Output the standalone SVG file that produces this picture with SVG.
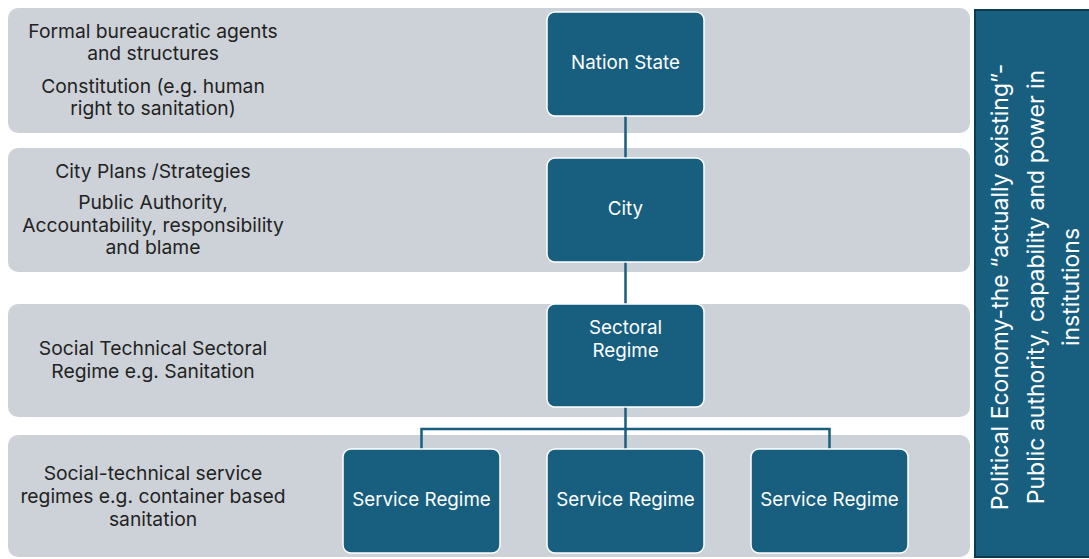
<svg xmlns="http://www.w3.org/2000/svg" width="1089" height="559" viewBox="0 0 1089 559">
  <style>
    .band { fill: #CDD2D8; }
    .node rect { fill: #175E7F; stroke: #FFFFFF; stroke-width: 1.5; }
    .node text { fill: #FFFFFF; font-family: Inter, "Open Sans", "Liberation Sans", sans-serif; font-size: 18.8px; text-anchor: middle; }
    .lbl { fill: #222222; font-family: Inter, "Open Sans", "Liberation Sans", sans-serif; font-size: 19.3px; text-anchor: middle; }
    .conn { fill: none; stroke: #175E7F; stroke-width: 2.5; }
    .side rect { fill: #175E7F; stroke: #0C3A4F; stroke-width: 2; }
    .side text { fill: #FFFFFF; font-family: Inter, "Open Sans", "Liberation Sans", sans-serif; font-size: 23px; text-anchor: middle; }
  </style>

  <rect width="1089" height="559" fill="#FFFFFF"/>

  <!-- horizontal level bands -->
  <g id="bands">
    <rect class="band" x="8" y="8" width="962" height="125" rx="10"/>
    <rect class="band" x="8" y="148" width="962" height="124" rx="10"/>
    <rect class="band" x="8" y="304" width="962" height="113" rx="10"/>
    <rect class="band" x="8" y="435" width="962" height="122" rx="10"/>
  </g>

  <!-- level descriptions -->
  <g id="level-labels">
    <text class="lbl" x="153" y="38">Formal bureaucratic agents</text>
    <text class="lbl" x="153" y="60">and structures</text>
    <text class="lbl" x="153" y="93">Constitution (e.g. human</text>
    <text class="lbl" x="153" y="115">right to sanitation)</text>

    <text class="lbl" x="153" y="178">City Plans /Strategies</text>
    <text class="lbl" x="153" y="209">Public Authority,</text>
    <text class="lbl" x="153" y="232">Accountability, responsibility</text>
    <text class="lbl" x="153" y="254">and blame</text>

    <text class="lbl" x="153" y="355">Social Technical Sectoral</text>
    <text class="lbl" x="153" y="378">Regime e.g. Sanitation</text>

    <text class="lbl" x="153" y="480">Social-technical service</text>
    <text class="lbl" x="153" y="503">regimes e.g. container based</text>
    <text class="lbl" x="153" y="526">sanitation</text>
  </g>

  <!-- hierarchy connectors -->
  <g id="connectors">
    <path class="conn" d="M625.5 116 V158"/>
    <path class="conn" d="M625.5 262 V304"/>
    <path class="conn" d="M625.5 407 V449"/>
    <path class="conn" d="M421.5 449 V429 H829.5 V449"/>
  </g>

  <g id="nation-state" class="node">
    <rect x="547" y="12" width="157" height="104" rx="8"/>
    <text x="625.5" y="69">Nation State</text>
  </g>

  <g id="city" class="node">
    <rect x="547" y="158" width="157" height="104" rx="8"/>
    <text x="625.5" y="215">City</text>
  </g>

  <g id="sectoral-regime" class="node">
    <rect x="547" y="304" width="157" height="103" rx="8"/>
    <text x="625.5" y="334">Sectoral</text>
    <text x="625.5" y="357">Regime</text>
  </g>

  <g id="service-regime-1" class="node">
    <rect x="343" y="449" width="157" height="104" rx="8"/>
    <text x="421.5" y="506">Service Regime</text>
  </g>

  <g id="service-regime-2" class="node">
    <rect x="547" y="449" width="157" height="104" rx="8"/>
    <text x="625.5" y="506">Service Regime</text>
  </g>

  <g id="service-regime-3" class="node">
    <rect x="751" y="449" width="157" height="104" rx="8"/>
    <text x="829.5" y="506">Service Regime</text>
  </g>

  <!-- vertical side panel -->
  <g id="political-economy" class="side">
    <rect x="975" y="10" width="120" height="547"/>
    <text transform="translate(1008 287) rotate(-90)">Political Economy-the “actually existing”-</text>
    <text transform="translate(1043.5 287) rotate(-90)">Public authority, capability and power in</text>
    <text transform="translate(1079 287) rotate(-90)">institutions</text>
  </g>
</svg>
